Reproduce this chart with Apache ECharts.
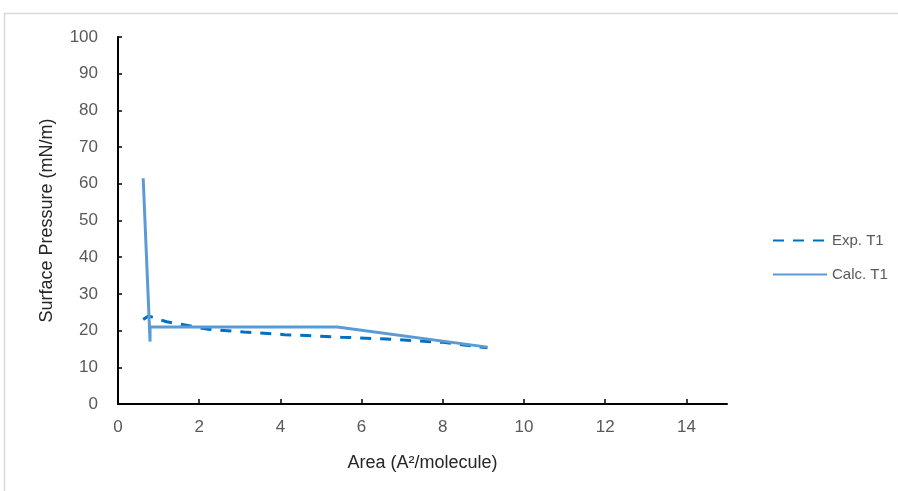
<!DOCTYPE html>
<html>
<head>
<meta charset="utf-8">
<script src="https://cdn.jsdelivr.net/npm/echarts@6/dist/echarts.min.js"></script>
<style>html,body{margin:0;padding:0;background:#fff;}#c{width:898px;height:491px;}</style>
</head>
<body>
<div id="c"></div>
<script>
const seriesNames = ['Exp. T1', 'Calc. T1'];
const expT1 = [[0.62, 23.0], [0.75, 24.0], [1.2, 22.4], [2.2, 20.4], [3.1, 19.6], [4.1, 18.9], [5.5, 18.2], [6.8, 17.6], [8.0, 16.8], [9.1, 15.3]];
const calcT1 = [[0.62, 61.5], [0.79, 17.0], [0.79, 21.0], [5.4, 21.0], [9.1, 15.5]];
const xTicks = [0, 2, 4, 6, 8, 10, 12, 14];
const yTicks = [0, 10, 20, 30, 40, 50, 60, 70, 80, 90, 100];

const chart = echarts.init(document.getElementById('c'));
const font = 'Liberation Sans';
chart.setOption({
  animation: false,
  backgroundColor: '#ffffff',
  graphic: [{
    type: 'rect',
    shape: { x: 4.5, y: 13.5, width: 1000, height: 1000 },
    style: { fill: 'none', stroke: '#d9d9d9', lineWidth: 1.5 },
    silent: true
  }],
  grid: { left: 118, top: 37, right: 171, bottom: 87 },
  legend: {
    orient: 'vertical',
    left: 772,
    top: 233,
    padding: 0,
    itemWidth: 54,
    itemHeight: 14,
    itemGap: 19,
    itemStyle: { opacity: 0 },
    textStyle: { fontFamily: font, fontSize: 15, color: '#595959' },
    data: seriesNames
  },
  xAxis: {
    type: 'value',
    min: 0, max: 15, interval: 2,
    name: 'Area (A²/molecule)',
    nameLocation: 'middle',
    nameGap: 50,
    nameTextStyle: { fontFamily: font, fontSize: 18, color: '#262626' },
    axisLine: { show: true, lineStyle: { color: '#000', width: 2 } },
    axisTick: { show: true, inside: true, length: 5, lineStyle: { color: '#000', width: 1.5 }, customValues: xTicks },
    axisLabel: { fontFamily: font, fontSize: 17, color: '#595959', margin: 15, customValues: xTicks },
    splitLine: { show: false }
  },
  yAxis: {
    type: 'value',
    min: 0, max: 100, interval: 10,
    name: 'Surface Pressure (mN/m)',
    nameLocation: 'middle',
    nameGap: 62,
    nameTextStyle: { fontFamily: font, fontSize: 18, color: '#262626' },
    axisLine: { show: true, lineStyle: { color: '#000', width: 2 } },
    axisTick: { show: true, inside: true, length: 4, lineStyle: { color: '#000', width: 1.5 } },
    axisLabel: { fontFamily: font, fontSize: 17, color: '#595959', margin: 20 },
    splitLine: { show: false }
  },
  series: [
    {
      name: seriesNames[0], type: 'line', data: expT1, symbol: 'none',
      color: '#0070C0',
      lineStyle: { color: '#0070C0', width: 3, type: [11, 9] }
    },
    {
      name: seriesNames[1], type: 'line', data: calcT1, symbol: 'none',
      color: '#5B9BD5',
      lineStyle: { color: '#5B9BD5', width: 3 }
    }
  ]
});
</script>
</body>
</html>
